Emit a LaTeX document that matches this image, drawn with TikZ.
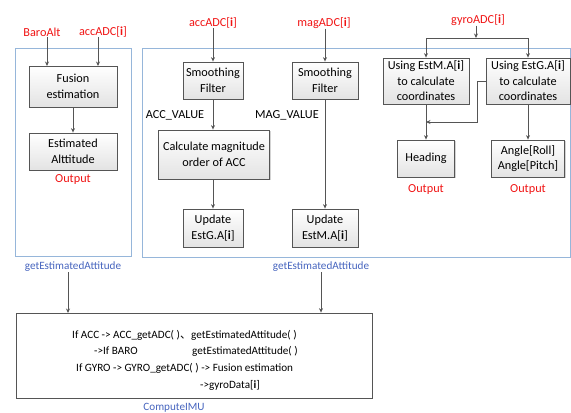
\documentclass[tikz,border=0pt]{standalone}
\usepackage{fontspec}
\setmainfont{Carlito}
\newfontfamily\cjkf{Noto Sans CJK SC}
\usetikzlibrary{arrows.meta,shadows}
\definecolor{lblred}{RGB}{240,20,20}
\definecolor{lblblue}{RGB}{70,100,190}
\definecolor{frameblue}{RGB}{150,182,218}
\definecolor{edgegray}{RGB}{85,85,85}
\tikzset{
  gbox/.style={draw=edgegray, line width=0.8bp, top color=white, bottom color=gray!22,
    align=center, inner sep=1bp, font=\fontsize{12.3}{15.5}\selectfont,
    drop shadow={shadow xshift=1.2bp, shadow yshift=-1.2bp, opacity=0.35}},
  redlbl/.style={text=lblred, font=\fontsize{12.3}{15}\selectfont, inner sep=0pt},
  bluelbl/.style={text=lblblue, font=\fontsize{11.2}{13}\selectfont, inner sep=0pt},
  plainlbl/.style={font=\fontsize{12.3}{15}\selectfont, inner sep=0pt},
  codetxt/.style={font=\fontsize{11.2}{13}\selectfont, inner sep=0pt, anchor=west},
  frame/.style={draw=frameblue, line width=1bp},
  arr/.style={draw=edgegray, line width=0.8bp, -{Stealth[length=4.5bp,width=4bp]}},
  ln/.style={draw=edgegray, line width=0.8bp}
}
\begin{document}
\begin{tikzpicture}[x=1bp,y=-1bp]
\useasboundingbox (0,0) rectangle (571,412);
% frames
\draw[frame] (15,48) rectangle (131,256);
\draw[frame] (142,48) rectangle (570,257);
% left group
\node[redlbl] (baro) at (42,32) {BaroAlt};
\node[redlbl] (acc1) at (103,32) {accADC[\textbf{i}]};
\node[gbox, minimum width=88bp, minimum height=41bp] (fus) at (73,86.5) {Fusion\\estimation};
\node[gbox, minimum width=88bp, minimum height=37bp] (alt) at (73,151.5) {Estimated\\Alttitude};
\node[redlbl] (out1) at (73,180) {Output};
\coordinate (fa) at (47,66);
\coordinate (fb) at (98,66);
\draw[arr] (baro.south -| fa) -- (fa);
\draw[arr] (acc1.south -| fb) -- (fb);
\draw[arr] (fus) -- (alt);
\node[bluelbl] (gea1) at (73,267) {getEstimatedAttitude};
% middle group
\node[redlbl] (acc2) at (213,23) {accADC[\textbf{i}]};
\node[redlbl] (mag) at (324,23) {magADC[\textbf{i}]};
\node[gbox, minimum width=60bp, minimum height=37bp] (sm1) at (213,80.5) {Smoothing\\Filter};
\node[gbox, minimum width=66bp, minimum height=37bp] (sm2) at (325,80.5) {Smoothing\\Filter};
\node[plainlbl] (accv) at (175,115) {ACC\_VALUE};
\node[plainlbl] (magv) at (287,115) {MAG\_VALUE};
\node[gbox, minimum width=111bp, minimum height=49bp] (calc) at (214,154.5) {Calculate magnitude\\order of ACC};
\node[gbox, minimum width=60bp, minimum height=38bp] (upg) at (213,228) {Update\\EstG.A[\textbf{i}]};
\node[gbox, minimum width=66bp, minimum height=38bp] (upm) at (325,228) {Update\\EstM.A[\textbf{i}]};
\draw[arr] (acc2.south -| sm1.north) -- (sm1.north);
\draw[arr] (mag.south -| sm2.north) -- (sm2.north);
\draw[arr] (sm1.south) -- (sm1.south |- calc.north);
\draw[arr] (calc.south -| upg.north) -- (upg.north);
\draw[arr] (sm2.south) -- (upm.north);
\node[bluelbl] (gea2) at (321,267) {getEstimatedAttitude};
% right group
\node[redlbl] (gyro) at (478,20) {gyroADC[\textbf{i}]};
\node[gbox, minimum width=86bp, minimum height=46bp] (usm) at (426,81) {Using EstM.A[\textbf{i}]\\to calculate\\coordinates};
\node[gbox, minimum width=84bp, minimum height=46bp] (usg) at (528,81) {Using EstG.A[\textbf{i}]\\to calculate\\coordinates};
\node[gbox, minimum width=57bp, minimum height=37bp] (head) at (426,158.5) {Heading};
\node[gbox, minimum width=73bp, minimum height=37bp] (ang) at (528,158.5) {Angle[Roll]\\Angle[Pitch]};
\node[redlbl] (out2) at (426,190) {Output};
\node[redlbl] (out3) at (528,190) {Output};
\coordinate (gj) at (476,38);
\draw[arr] (gyro.south -| gj) -- (gj);
\draw[arr] (gj) -| (usm.north);
\draw[arr] (gj) -| (usg.north);
\coordinate (bend) at (477,122);
\draw[arr] (usg.west |- 0,81) -- (bend |- 0,81) -- (bend) -- (usm.south |- bend);
\draw[arr] (usm.south) -- (head.north);
\draw[arr] (usg.south) -- (ang.north);
% bottom
\node[draw=edgegray, line width=0.8bp, fill=white, minimum width=356bp, minimum height=85bp,
  drop shadow={shadow xshift=1bp, shadow yshift=-1bp, opacity=0.3}] (imu) at (194,355.5) {};
\draw[arr] (gea1.south -| 68,0) -- (68,313);
\draw[arr] (gea2.south) -- (gea2.south |- imu.north);
\node[codetxt] (c1) at (72,335) {If ACC -> ACC\_getADC( ){\cjkf 、}getEstimatedAttitude( )};
\node[codetxt] (c2a) at (94,351) {->If BARO};
\node[codetxt] (c2b) at (192,351) {getEstimatedAttitude( )};
\node[codetxt] (c3) at (76,368) {If GYRO -> GYRO\_getADC( ) -> Fusion estimation};
\node[codetxt] (c4) at (200,385) {->gyroData[\textbf{i}]};
\node[bluelbl] (cimu) at (174,408) {ComputeIMU};
\end{tikzpicture}
\end{document}
